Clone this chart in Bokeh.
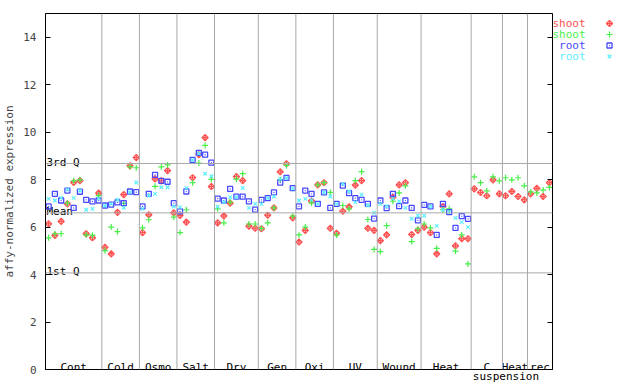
import numpy as np
from bokeh.plotting import figure
from bokeh.layouts import row
from bokeh.models import Range1d, LinearAxis, FixedTicker, Span, Title
from bokeh.core.properties import value
from bokeh.embed import file_html
from bokeh.resources import INLINE

# ---------------- data ----------------
groups = ["Cont", "Cold", "Osmo", "Salt", "Dry", "Gen", "Oxi", "UV", "Wound", "Heat", "C", "Heat", "rec"]
group_sizes = [9, 6, 6, 6, 7, 6, 6, 7, 7, 8, 5, 4, 4]
sub_label = "suspension"

shoot_rep1 = [6.14, 5.65, 6.24, 6.98, 7.88, 7.96, 5.72, 5.55, 7.43,
              5.15, 4.87, 6.62, 7.37, 8.58, 8.93,
              5.77, 6.52, 8.03, 7.95, 8.38, 6.60,
              6.49, 6.21, 8.08, 9.05, 9.77, 7.71,
              6.18, 6.47, 7.01, 8.13, 7.96, 6.04, 5.95,
              5.93, 6.50, 6.81, 8.33, 8.67, 6.39,
              5.37, 5.86, 7.10, 7.78, 7.87, 5.95,
              5.74, 6.67, 6.85, 7.77, 7.96, 5.95, 5.86,
              5.43, 5.67, 7.26, 7.78, 7.87, 5.69, 5.86,
              6.00, 5.77, 4.87, 6.87, 7.40, 5.21, 5.51, 5.51,
              7.61, 7.46, 7.32, 7.99, 7.40,
              7.32, 7.50, 7.29, 7.15,
              7.40, 7.63, 7.29, 7.87]
shoot_rep2 = [5.55, 5.72, 5.72, 7.01, 7.95, 7.99, 5.67, 5.66, 7.33,
              5.01, 6.00, 5.81, 7.00, 8.55, 8.50,
              5.97, 6.31, 7.72, 8.54, 8.62, 6.42,
              5.77, 6.73, 7.87, 8.70, 9.44, 8.01,
              6.77, 6.18, 7.05, 8.02, 8.25, 6.13, 6.13,
              5.95, 6.18, 6.81, 8.00, 8.60, 6.46,
              5.67, 6.00, 7.02, 7.78, 7.87, 7.46,
              5.67, 6.91, 6.77, 7.96, 8.34, 6.32, 5.06,
              4.97, 6.06, 7.09, 7.44, 7.74, 5.39, 5.93,
              6.13, 5.97, 5.10, 6.73, 6.77, 4.99, 5.67, 4.45,
              8.12, 7.87, 7.53, 8.12, 7.95,
              8.08, 7.99, 8.08, 7.74,
              7.48, 7.44, 7.56, 7.67]
root_rep1 = [6.87, 7.40, 7.12, 7.54, 6.81, 7.49, 7.15, 7.08, 7.12,
             6.91, 6.95, 7.04, 7.01, 7.50, 7.47,
             6.87, 7.40, 8.20, 7.95, 7.91, 7.01,
             6.66, 7.50, 8.83, 9.13, 9.05, 8.72,
             7.20, 7.12, 7.61, 7.28, 7.28, 7.08, 6.74,
             7.15, 7.22, 7.46, 7.87, 8.07, 7.64,
             6.87, 7.54, 7.40, 6.98, 7.46, 6.81,
             6.98, 7.75, 7.43, 7.22, 7.15, 6.98, 6.36,
             7.12, 6.80, 7.40, 6.88, 7.12, 6.81, 6.28,
             6.94, 6.87, 5.67, 6.98, 6.63, 5.97, 6.46, 6.35]
root_rep2 = [7.19, 7.12, 7.23, 7.58, 7.23, 7.54, 6.73, 6.77, 7.20,
             6.90, 6.98, 7.15, 6.81, 7.47, 7.88,
             6.77, 7.33, 7.40, 7.68, 7.68, 6.87,
             6.84, 7.64, 8.83, 9.10, 8.25, 8.14,
             6.86, 7.05, 7.26, 7.26, 7.65, 6.81, 6.98,
             6.98, 7.22, 7.29, 8.03, 8.07, 7.62,
             7.12, 7.19, 7.15, 6.98, 7.46, 7.29,
             6.98, 7.82, 7.51, 7.05, 7.37, 6.91, 6.60,
             6.98, 6.88, 7.20, 7.08, 6.81, 6.35, 6.48,
             6.48, 6.87, 6.05, 6.73, 6.63, 6.39, 6.21, 6.00]

q_labels = ["3rd Q", "Mean", "1st Q"]
q_values = [8.68, 6.60, 4.07]
y_ticks = [0, 2, 4, 6, 8, 10, 12, 14]
series_names = ["shoot", "shoot", "root", "root"]
series_colors = ["#FF5050", "#48EE48", "#4848FF", "#5CF0FF"]
series_markers = ["square_x", "cross", "square_dot", "x"]

# ---------------- layout ----------------
W, H = 640, 384
L, T, B = 44, 13, 15
CW = 553            # width of the chart figure (frame right edge at 552)
FONT = "DejaVu Sans Mono"
n = sum(group_sizes)
ymax = 15
fw, fh = CW - 1 - L, H - T - B
ppx = fw / n        # pixels per x unit
ppy = fh / ymax     # pixels per y unit

chart = figure(width=CW, height=H, x_range=Range1d(0, n), y_range=Range1d(0, ymax),
               output_backend="svg", toolbar_location=None, x_axis_location=None,
               min_border_left=L, min_border_right=1, min_border_top=T, min_border_bottom=B)
chart.grid.visible = False
chart.outline_line_color = "black"
chart.background_fill_color = "white"
chart.border_fill_color = "white"

ya = chart.yaxis[0]
ya.ticker = FixedTicker(ticks=y_ticks)
ya.major_tick_in = 5
ya.major_tick_out = 0
ya.minor_tick_in = 0
ya.minor_tick_out = 0
ya.major_label_standoff = 9
ya.major_label_text_font = FONT
ya.major_label_text_font_size = "11px"
ya.axis_label = "affy-normalized expression"
ya.axis_label_standoff = 4
ya.axis_label_text_font = FONT
ya.axis_label_text_font_size = "11px"
ya.axis_label_text_font_style = "normal"
ya.axis_line_color = "black"

ra = LinearAxis(ticker=FixedTicker(ticks=y_ticks), major_tick_in=5, major_tick_out=0,
                minor_tick_in=0, minor_tick_out=0,
                major_label_overrides={t: "" for t in y_ticks},
                major_label_standoff=0, axis_line_color="black")
chart.add_layout(ra, "right")

# group separators
bounds = np.cumsum(group_sizes)[:-1]
for b in bounds:
    chart.add_layout(Span(location=float(b), dimension="height", line_color="#A8A8A8", line_width=1))
# quartile lines
for q in q_values:
    chart.add_layout(Span(location=q, dimension="width", line_color="#A8A8A8", line_width=1))

chart.text(x=[0.0] * len(q_values), y=[q + 1.0 / ppy for q in q_values], text=q_labels,
           text_font=value(FONT), text_font_size="11px", text_align="left",
           text_baseline="alphabetic", text_color="black", x_offset=1)

# group labels
starts = np.concatenate([[0], np.cumsum(group_sizes)[:-1]])
centers = [float(s + g / 2.0) for s, g in zip(starts, group_sizes)]
chart.text(x=centers, y=[2.5 / ppy] * len(centers), text=groups,
           text_font=value(FONT), text_font_size="11px", text_align="center",
           text_baseline="alphabetic", text_color="black")

# second-line label below the frame
sub_center = (float(starts[groups.index("C")] + group_sizes[groups.index("C")]) + 0.4) * ppx
sub_title = Title(text=sub_label, align="left", offset=sub_center - 33, standoff=0,
                  text_font=FONT, text_font_size="11px", text_font_style="normal",
                  text_color="black", vertical_align="top")
chart.add_layout(sub_title, "below")

# data points
xs = [i + 0.5 for i in range(n)]
xr = xs[:len(root_rep1)]
marker_style = [dict(size=4.5, angle=np.pi / 4, fill_color=series_colors[0], fill_alpha=0.2, line_width=1.1),
                dict(size=6, line_width=1.2),
                dict(size=5, fill_color=None, line_width=1.3),
                dict(size=5, line_width=1.2)]
series_data = [(xs, shoot_rep1), (xs, shoot_rep2), (xr, root_rep1), (xr, root_rep2)]
for (sx, sy), mk, col, st in zip(series_data, series_markers, series_colors, marker_style):
    chart.scatter(sx, sy, marker=mk, line_color=col, **st)

# ---------------- legend panel (right of the chart) ----------------
# the row aligns this figure's frame with the chart frame (T .. H-B), so use page pixels
leg = figure(width=W - CW, height=H, x_range=Range1d(CW, W), y_range=Range1d(H - B, T),
             output_backend="svg", toolbar_location=None, x_axis_location=None,
             y_axis_location=None, min_border=0)
leg.grid.visible = False
leg.outline_line_color = None
leg.background_fill_color = "white"
leg.border_fill_color = "white"
rows_y = [23 + 11 * k for k in range(len(series_names))]
leg.text(x=[585] * len(series_names), y=rows_y, text=series_names, text_color=series_colors,
         text_font=value(FONT), text_font_size="11px", text_align="right",
         text_baseline="middle")
for k, (mk, col, st) in enumerate(zip(series_markers, series_colors, marker_style)):
    leg.scatter([609], [rows_y[k]], marker=mk, line_color=col, **st)

p = row(chart, leg)
open("out.html", "w").write(file_html(p, INLINE))
